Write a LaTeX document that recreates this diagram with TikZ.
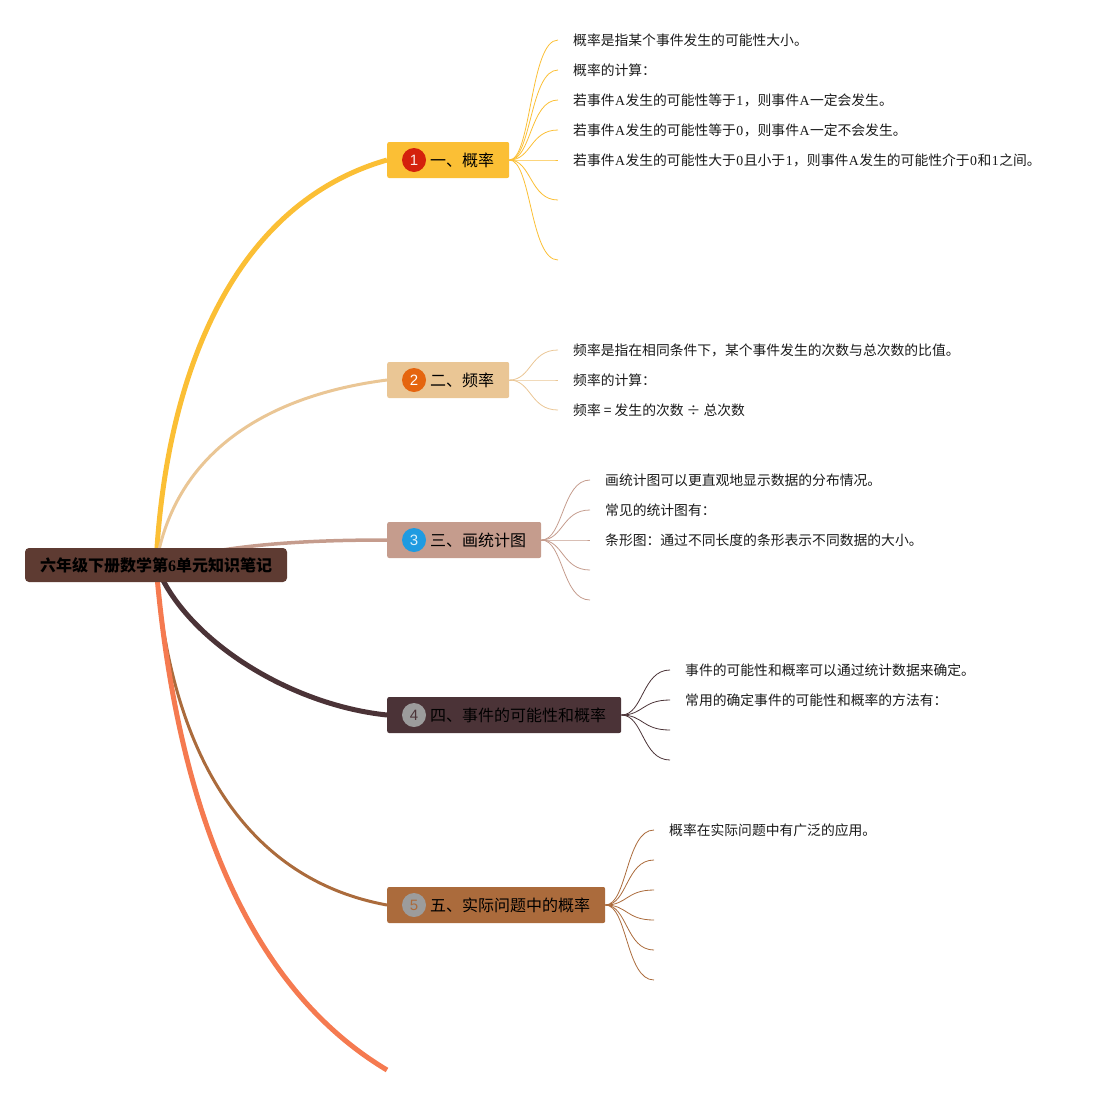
\documentclass[tikz,border=0pt]{standalone}
\usepackage{fontspec}
\setmainfont{Liberation Serif}
\newfontfamily\cjk{Noto Sans CJK SC}
\newfontfamily\numfont{Liberation Sans}
\usetikzlibrary{backgrounds}
\definecolor{rootc}{HTML}{5E3B32}
\definecolor{cA}{HTML}{FBBF35}
\definecolor{cB}{HTML}{EAC695}
\definecolor{cC}{HTML}{C59C8D}
\definecolor{cD}{HTML}{4B3337}
\definecolor{cE}{HTML}{AB6B3C}
\definecolor{cF}{HTML}{F57A50}
\definecolor{dA}{HTML}{D4210C}
\definecolor{dB}{HTML}{E5650F}
\definecolor{dC}{HTML}{1F9BE1}
\definecolor{dG}{HTML}{9C9C9C}
\definecolor{leafc}{HTML}{1A1A1A}
\newcommand\lat[1]{\hspace{0.5pt}{\rmfamily #1}\hspace{0.5pt}}
\begin{document}
\begin{tikzpicture}[x=1pt,y=-1pt,
  rootbox/.style={fill=rootc, rounded corners=4pt, minimum width=262pt, minimum height=34pt,
    inner sep=0pt, font=\cjk\bfseries\fontsize{16}{19}\selectfont, text=black},
  branchbox/.style={fill=#1, rounded corners=2pt, minimum height=36pt, inner xsep=15pt,
    inner ysep=0pt, anchor=west, font=\cjk\fontsize{16}{19}\selectfont, text=black},
  numdot/.style={circle, fill=#1, minimum size=24pt, inner sep=0pt,
    font=\numfont\fontsize{15}{15}\selectfont},
  leaftext/.style={anchor=west, inner sep=0pt, font=\cjk\fontsize{13.8}{17}\selectfont, text=leafc},
  trunk/.style={draw=#1},
  twig/.style={draw=#1, line width=0.8pt}]
\useasboundingbox (0,0) rectangle (1102,1095);

% root
\node[rootbox] (root) at (156,565) {六年级下册数学第{\rmfamily\bfseries 6}单元知识笔记};

% branches
\node[branchbox=cA] (b1) at (387,160) {\hspace{28pt}一、概率};
\node[branchbox=cB] (b2) at (387,380) {\hspace{28pt}二、频率};
\node[branchbox=cC] (b3) at (387,540) {\hspace{28pt}三、画统计图};
\node[branchbox=cD] (b4) at (387,715) {\hspace{28pt}四、事件的可能性和概率};
\node[branchbox=cE] (b5) at (387,905) {\hspace{28pt}五、实际问题中的概率};
\coordinate (b6) at (387,1070);

\node[numdot=dA, text=white!90!dA] (n1) at (414,160) {1};
\node[numdot=dB, text=white] (n2) at (414,380) {2};
\node[numdot=dC, text=white!85!dC] (n3) at (414,540) {3};
\node[numdot=dG, text=cD] (n4) at (414,715) {4};
\node[numdot=dG, text=cE] (n5) at (414,905) {5};

\begin{scope}[on background layer]
\draw[trunk=cA, line width=5pt] (root.center) .. controls (165,380) and (230,205) .. (b1.west);
\draw[trunk=cB, line width=3pt] (root.center) .. controls (175,450) and (270,395) .. (b2.west);
\draw[trunk=cC, line width=3.5pt] (root.center) .. controls (220,545) and (300,540) .. (b3.west);
\draw[trunk=cD, line width=5pt] (root.center) .. controls (185,640) and (290,705) .. (b4.west);
\draw[trunk=cE, line width=3pt] (root.center) .. controls (170,760) and (250,880) .. (b5.west);
\draw[trunk=cF, line width=5pt] (root.center) .. controls (180,850) and (270,1000) .. (b6);
\end{scope}

% twigs
\foreach \i/\yy in {1/40,2/70,3/100,4/130,5/160,6/200,7/260}{
  \coordinate (t1-\i) at (558,\yy);
  \draw[twig=cA] (b1.east) .. controls +(22,0) and +(-28,0) .. (t1-\i);
}
\foreach \i/\yy in {1/350,2/380,3/410}{
  \coordinate (t2-\i) at (558,\yy);
  \draw[twig=cB] (b2.east) .. controls +(22,0) and +(-28,0) .. (t2-\i);
}
\foreach \i/\yy in {1/480,2/510,3/540,4/570,5/600}{
  \coordinate (t3-\i) at (590,\yy);
  \draw[twig=cC] (b3.east) .. controls +(22,0) and +(-28,0) .. (t3-\i);
}
\foreach \i/\yy in {1/670,2/700,3/730,4/760}{
  \coordinate (t4-\i) at (670,\yy);
  \draw[twig=cD] (b4.east) .. controls +(22,0) and +(-28,0) .. (t4-\i);
}
\foreach \i/\yy in {1/830,2/860,3/890,4/920,5/950,6/980}{
  \coordinate (t5-\i) at (654,\yy);
  \draw[twig=cE] (b5.east) .. controls +(22,0) and +(-28,0) .. (t5-\i);
}

% leaf texts
\node[leaftext] (l11) at (573,40) {概率是指某个事件发生的可能性大小。};
\node[leaftext] (l12) at (573,70) {概率的计算：};
\node[leaftext] (l13) at (573,100) {若事件\lat{A}发生的可能性等于\lat{1}，则事件\lat{A}一定会发生。};
\node[leaftext] (l14) at (573,130) {若事件\lat{A}发生的可能性等于\lat{0}，则事件\lat{A}一定不会发生。};
\node[leaftext] (l15) at (573,160) {若事件\lat{A}发生的可能性大于\lat{0}且小于\lat{1}，则事件\lat{A}发生的可能性介于\lat{0}和\lat{1}之间。};

\node[leaftext] (l21) at (573,350) {频率是指在相同条件下，某个事件发生的次数与总次数的比值。};
\node[leaftext] (l22) at (573,380) {频率的计算：};
\node[leaftext] (l23) at (573,410) {频率 = 发生的次数 ÷ 总次数};

\node[leaftext] (l31) at (605,480) {画统计图可以更直观地显示数据的分布情况。};
\node[leaftext] (l32) at (605,510) {常见的统计图有：};
\node[leaftext] (l33) at (605,540) {条形图：通过不同长度的条形表示不同数据的大小。};

\node[leaftext] (l41) at (685,670) {事件的可能性和概率可以通过统计数据来确定。};
\node[leaftext] (l42) at (685,700) {常用的确定事件的可能性和概率的方法有：};

\node[leaftext] (l51) at (669,830) {概率在实际问题中有广泛的应用。};
\end{tikzpicture}
\end{document}
